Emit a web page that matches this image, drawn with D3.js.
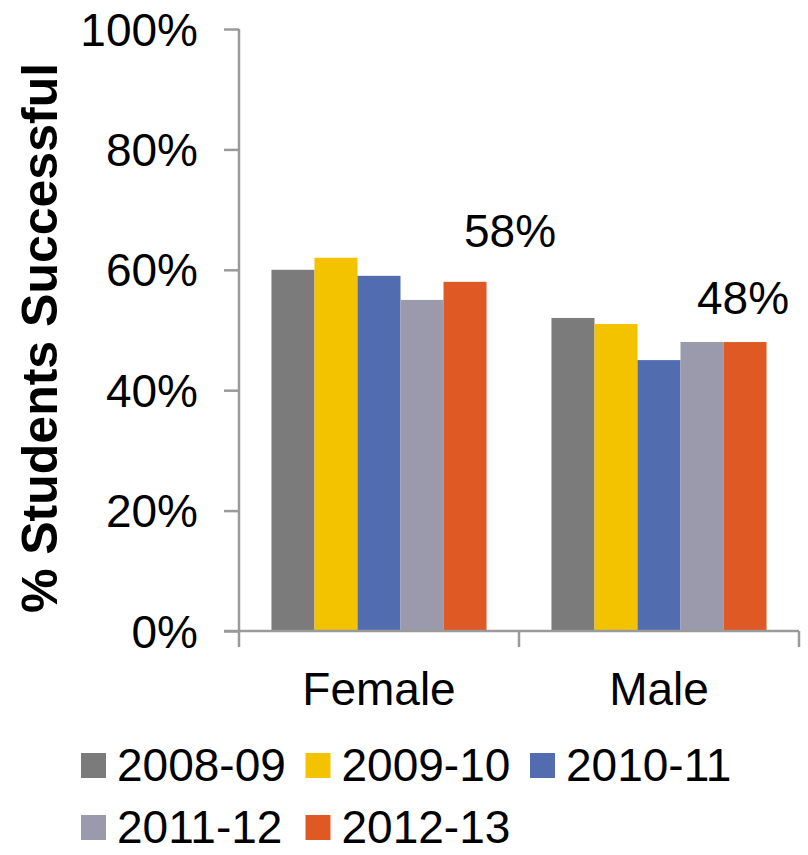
<!DOCTYPE html>
<html>
<head>
<meta charset="utf-8">
<script src="https://cdn.jsdelivr.net/npm/d3@7"></script>
<style>
  body { margin: 0; background: #fff; }
  svg text { font-family: "Liberation Sans", Arial, sans-serif; fill: #000; }
</style>
</head>
<body>
<div id="chart"></div>
<script>
// chart data
var groups = ["Female", "Male"];
var years = ["2008-09", "2009-10", "2010-11", "2011-12", "2012-13"];
var female = [60, 62, 59, 55, 58];
var male = [52, 51, 45, 48, 48];
var yTicks = [0, 20, 40, 60, 80, 100];
var colors = ["#7b7b7b", "#f4c300", "#526daf", "#9a9aac", "#de5923"];

// rows for the bars
var rows = groups.map(function(g, gi) {
  var vals = gi == 0 ? female : male;
  return { group: g, values: years.map((y, i) => ({ year: y, value: vals[i] })) };
});

var svg_width = 808;
var svg_height = 855;

var svg = d3.select("#chart")
  .append("svg")
  .attr("width", svg_width)
  .attr("height", svg_height);

// scales
var x0 = d3.scaleBand()
  .domain(groups)
  .range([239, 799])
  .paddingInner(0.232)
  .paddingOuter(0.116);

var x1 = d3.scaleBand()
  .domain(years)
  .range([0, x0.bandwidth()]);

var y = d3.scaleLinear()
  .domain([0, 100])
  .range([631, 29]);

var color = d3.scaleOrdinal().domain(years).range(colors);

var axisColor = "#9a9a9a";

// bars
svg.append("g")
  .selectAll("g")
  .data(rows)
  .enter()
  .append("g")
  .attr("transform", d => "translate(" + x0(d.group) + ",0)")
  .selectAll("rect")
  .data(d => d.values)
  .enter()
  .append("rect")
  .attr("x", d => x1(d.year))
  .attr("y", d => y(d.value))
  .attr("width", x1.bandwidth())
  .attr("height", d => y(0) - y(d.value))
  .style("fill", d => color(d.year));

// y axis
var yAxis = d3.axisLeft(y)
  .tickValues(yTicks)
  .tickSize(15)
  .tickPadding(26)
  .tickFormat(d => d + "%");

var yG = svg.append("g")
  .attr("transform", "translate(239,0)")
  .call(yAxis);
yG.select(".domain").remove();
yG.append("line")
  .attr("x1", 0).attr("x2", 0)
  .attr("y1", y(100)).attr("y2", y(0))
  .style("stroke", axisColor).style("stroke-width", 2.5);
yG.selectAll(".tick line").style("stroke", axisColor).style("stroke-width", 2.5);
yG.selectAll(".tick text")
  .style("font-size", "46px")
  .attr("dy", "0.35em");

// x axis
var xG = svg.append("g").attr("transform", "translate(0," + y(0) + ")");
xG.append("line")
  .attr("x1", 224).attr("x2", 799)
  .attr("y1", 0).attr("y2", 0)
  .style("stroke", axisColor).style("stroke-width", 2.5);
var xTickPos = [x0.range()[0], x0.range()[0] + x0.step(), x0.range()[1]];
xG.selectAll("line.xt")
  .data(xTickPos)
  .enter()
  .append("line")
  .attr("class", "xt")
  .attr("x1", d => d).attr("x2", d => d)
  .attr("y1", 0).attr("y2", 16)
  .style("stroke", axisColor).style("stroke-width", 2.5);
xG.selectAll("text")
  .data(groups)
  .enter()
  .append("text")
  .attr("x", d => x0(d) + x0.bandwidth() / 2)
  .attr("y", 74)
  .attr("text-anchor", "middle")
  .style("font-size", "46px")
  .text(d => d);

// y axis title
svg.append("text")
  .attr("transform", "translate(57,338) rotate(-90)")
  .attr("text-anchor", "middle")
  .style("font-size", "50px")
  .style("font-weight", "bold")
  .text("% Students Successful");

// value labels on the 2012-13 bars
var labelOffsets = [{ dx: 45, dy: -35 }, { dx: -2, dy: -28 }];
rows.forEach(function(r, i) {
  var last = r.values[r.values.length - 1];
  svg.append("text")
    .attr("x", x0(r.group) + x1(last.year) + x1.bandwidth() / 2 + labelOffsets[i].dx)
    .attr("y", y(last.value) + labelOffsets[i].dy)
    .attr("text-anchor", "middle")
    .style("font-size", "46px")
    .text(last.value + "%");
});

// legend, three per row
var legend = svg.append("g")
  .selectAll("g")
  .data(years)
  .enter()
  .append("g")
  .attr("transform", (d, i) => "translate(" + (81 + (i % 3) * 224.5) + "," + (753 + Math.floor(i / 3) * 62) + ")");

legend.append("rect")
  .attr("width", 25)
  .attr("height", 25)
  .style("fill", d => color(d));

legend.append("text")
  .attr("x", 36)
  .attr("y", 28)
  .style("font-size", "46px")
  .text(d => d);
</script>
</body>
</html>
